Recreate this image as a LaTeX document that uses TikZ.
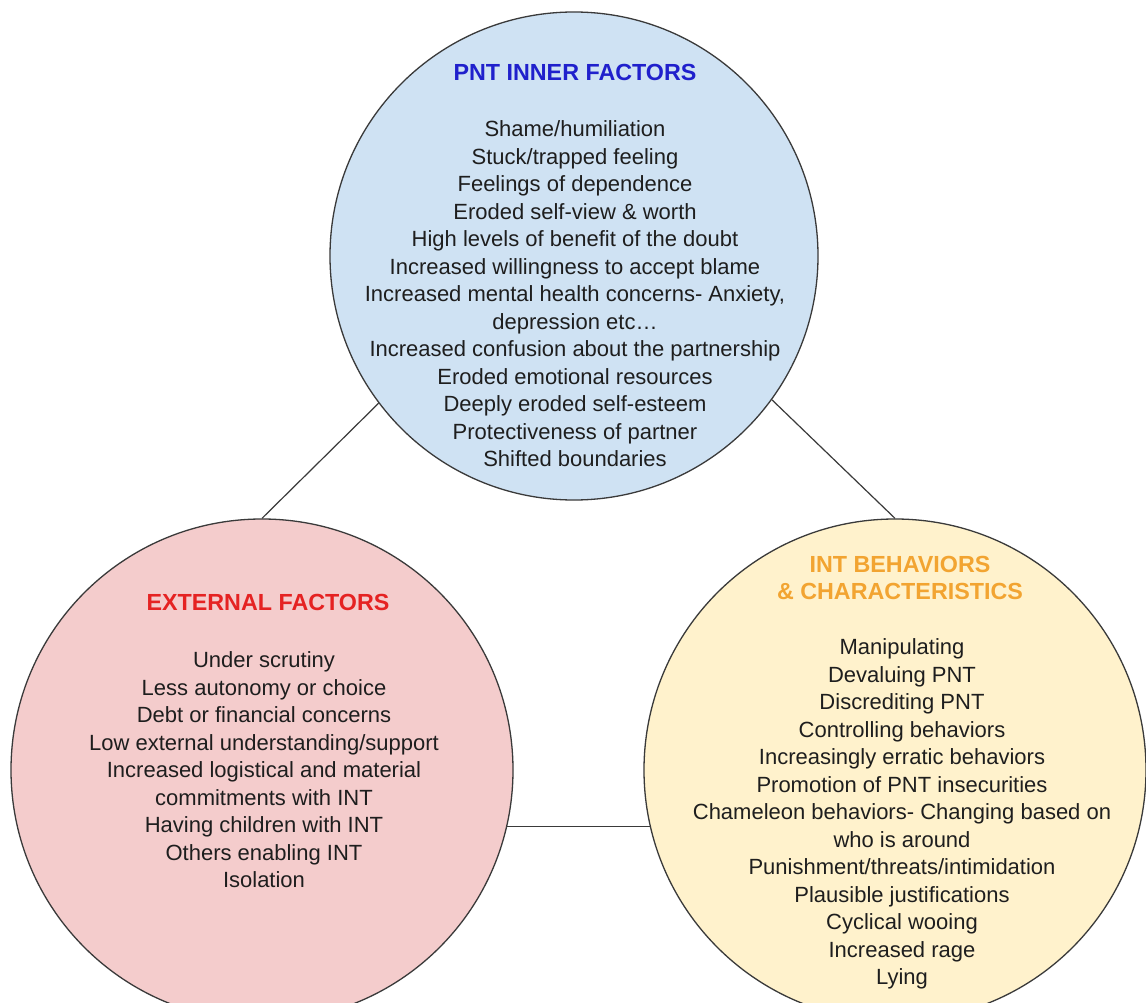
\documentclass[tikz,border=0pt]{standalone}
\usepackage{fontspec}
\setmainfont{Liberation Sans}
\definecolor{bluefill}{HTML}{CFE2F3}
\definecolor{redfill}{HTML}{F4CCCC}
\definecolor{yellowfill}{HTML}{FFF2CC}
\definecolor{titleblue}{HTML}{2020CC}
\definecolor{titlered}{HTML}{E52222}
\definecolor{titleorange}{HTML}{F2A431}
\definecolor{textdark}{HTML}{1E1E1E}
\definecolor{linegray}{HTML}{3A3A3A}
\begin{document}
\begin{tikzpicture}[x=1pt,y=-1pt,
  bubble/.style={circle, draw=linegray, line width=1.3pt, inner sep=0pt},
  body/.style={align=center, text=textdark, font=\fontsize{22}{27.5}\selectfont, inner sep=0pt},
  head/.style={align=center, font=\bfseries\fontsize{23.3}{27}\selectfont, inner sep=0pt},
  link/.style={draw=linegray, line width=1.2pt}]
\useasboundingbox (0,0) rectangle (1146,1003);
\fill[white] (0,0) rectangle (1146,1003);
\node[bubble, fill=bluefill, minimum size=488pt] (inner) at (574,256) {};
\node[bubble, fill=redfill, minimum size=502pt] (ext) at (262,770) {};
\node[bubble, fill=yellowfill, minimum size=502pt] (int) at (895,770) {};
\draw[link] (inner.217) -- (ext.north);
\draw[link] (inner.-36.5) -- (int.north);
\draw[link] (ext.-13.8) -- (int.193.8);
\node[head, text=titleblue] (innerhead) at (575,72) {PNT INNER FACTORS};
\node[body] (innerbody) at (575,294) {Shame/humiliation\\Stuck/trapped feeling\\Feelings of dependence\\Eroded self-view \& worth\\High levels of benefit of the doubt\\Increased willingness to accept blame\\Increased mental health concerns- Anxiety,\\depression etc…\\Increased confusion about the partnership\\Eroded emotional resources\\Deeply eroded self-esteem\\Protectiveness of partner\\Shifted boundaries};
\node[head, text=titlered] (exthead) at (268,602) {EXTERNAL FACTORS};
\node[body] (extbody) at (264,770) {Under scrutiny\\Less autonomy or choice\\Debt or financial concerns\\Low external understanding/support\\Increased logistical and material\\commitments with INT\\Having children with INT\\Others enabling INT\\Isolation};
\node[head, text=titleorange] (inthead) at (900,578) {INT BEHAVIORS\\\& CHARACTERISTICS};
\node[body] (intbody) at (902,814) {Manipulating\\Devaluing PNT\\Discrediting PNT\\Controlling behaviors\\Increasingly erratic behaviors\\Promotion of PNT insecurities\\Chameleon behaviors- Changing based on\\who is around\\Punishment/threats/intimidation\\Plausible justifications\\Cyclical wooing\\Increased rage\\Lying};
\end{tikzpicture}
\end{document}
